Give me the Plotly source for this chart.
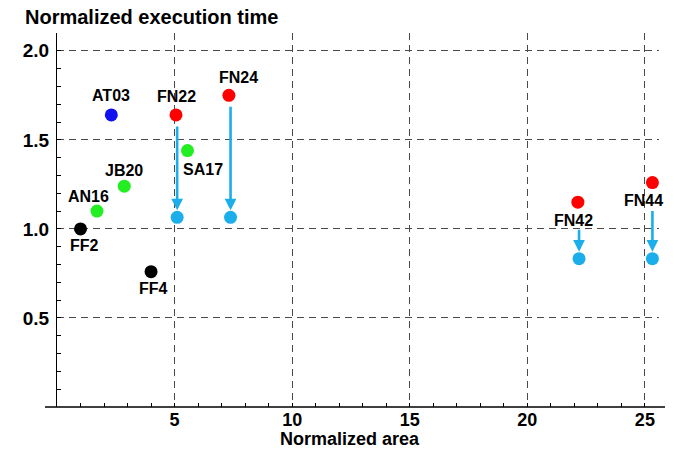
import plotly.graph_objects as go

# ---- data ----
names = ["FF2", "FF4", "AN16", "JB20", "SA17", "AT03", "FN22", "FN24", "FN42", "FN44"]
area = [1.0, 4.0, 1.70, 2.86, 5.55, 2.31, 5.06, 7.31, 22.15, 25.32]
exec_time = [1.0, 0.76, 1.10, 1.24, 1.44, 1.64, 1.64, 1.75, 1.15, 1.26]
family = ["FF", "FF", "G", "G", "G", "AT", "FN", "FN", "FN", "FN"]

opt_names = ["FN22", "FN24", "FN42", "FN44"]
opt_area = [5.11, 7.38, 22.20, 25.32]
opt_time = [1.065, 1.065, 0.833, 0.833]

x_ticks = [5, 10, 15, 20, 25]
y_ticks = [0.5, 1.0, 1.5, 2.0]

# ---- styles ----
FONT = "Liberation Sans, Arial, sans-serif"
colors = {"FF": "#000000", "G": "#22EE22", "AT": "#1010F0", "FN": "#FF0000"}
LIGHT = "#1BAEEA"
# label offsets in pixels (dx, dy; dy positive = up)
label_offsets = {
    "FF2": (4, -17), "FF4": (2, -17), "AN16": (-8, 15), "JB20": (0, 16),
    "SA17": (15, -19), "AT03": (0, 19), "FN22": (1, 18), "FN24": (10, 18),
    "FN42": (-4, -18), "FN44": (-9, -18),
}
# arrow start offsets (pixels below the original point)
arrow_start = {"FN22": 10, "FN24": 10, "FN42": 26, "FN44": 27}

fig = go.Figure()

fig.add_trace(go.Scatter(
    x=area, y=exec_time, mode="markers",
    marker=dict(size=13, color=[colors[f] for f in family], line=dict(width=0)),
    cliponaxis=False, showlegend=False, hoverinfo="skip",
))
fig.add_trace(go.Scatter(
    x=opt_area, y=opt_time, mode="markers",
    marker=dict(size=13, color=LIGHT, line=dict(width=0)),
    cliponaxis=False, showlegend=False, hoverinfo="skip",
))

annotations = []
for n, xv, yv in zip(names, area, exec_time):
    dx, dy = label_offsets[n]
    annotations.append(dict(
        x=xv, y=yv, xref="x", yref="y", text="<b>%s</b>" % n, showarrow=False,
        xshift=dx, yshift=dy, xanchor="center", yanchor="middle",
        font=dict(family=FONT, size=16, color="#000000"),
    ))

start_y = dict(zip(names, exec_time))
for n, xv, yv in zip(opt_names, opt_area, opt_time):
    annotations.append(dict(
        x=xv, y=yv, xref="x", yref="y", ax=xv, ay=start_y[n], axref="x", ayref="y",
        text="", showarrow=True, arrowhead=2, arrowsize=0.9, arrowwidth=2.6,
        arrowcolor=LIGHT, standoff=7, startstandoff=arrow_start[n],
    ))

W, H = 674, 455
L, R, T, B = 57, 15, 33, 48
pw = W - L - R
ph = H - T - B

annotations.append(dict(
    xref="paper", yref="paper", x=(23 - L) / pw, y=(H - B - 17) / ph,
    xanchor="left", yanchor="middle", showarrow=False,
    text="<b>Normalized execution time</b>",
    font=dict(family=FONT, size=20, color="#000000"),
))
annotations.append(dict(
    xref="paper", yref="paper", x=(350 - L) / pw, y=(H - B - 439) / ph,
    xanchor="center", yanchor="middle", showarrow=False,
    text="<b>Normalized area</b>",
    font=dict(family=FONT, size=18, color="#000000"),
))

shapes = [
    # x axis line extending past the plot area
    dict(type="line", xref="paper", yref="paper", x0=(45 - L) / pw, x1=(665 - L) / pw,
         y0=0, y1=0, line=dict(color="#000000", width=1.3)),
]

fig.update_layout(
    width=W, height=H,
    margin=dict(l=L, r=R, t=T, b=B, pad=0),
    paper_bgcolor="white", plot_bgcolor="white",
    annotations=annotations, shapes=shapes,
    xaxis=dict(
        range=[0, 25.6], showline=False, zeroline=False,
        tickmode="array", tickvals=x_ticks, ticktext=["<b>%d</b>" % v for v in x_ticks],
        ticks="inside", ticklen=4, tickcolor="#000000", tickwidth=1,
        tickfont=dict(family=FONT, size=18, color="#000000"),
        showgrid=True, gridcolor="#4a4a4a", gridwidth=1, griddash="7px,5px",
        minor=dict(dtick=1, tick0=0, ticks="inside", ticklen=4, tickcolor="#000000", showgrid=False),
        ticklabelstandoff=0,
    ),
    yaxis=dict(
        range=[0, 2.1], showline=True, linecolor="#000000", linewidth=1.3, zeroline=False,
        tickmode="array", tickvals=y_ticks, ticktext=["<b>%.1f</b>" % v for v in y_ticks],
        ticks="inside", ticklen=4, tickcolor="#000000", tickwidth=1,
        tickfont=dict(family=FONT, size=19, color="#000000"),
        showgrid=True, gridcolor="#4a4a4a", gridwidth=1, griddash="7px,5px",
        minor=dict(dtick=0.1, tick0=0, ticks="inside", ticklen=4, tickcolor="#000000", showgrid=False),
        ticklabelstandoff=3,
    ),
)

fig.write_html("out.html")
